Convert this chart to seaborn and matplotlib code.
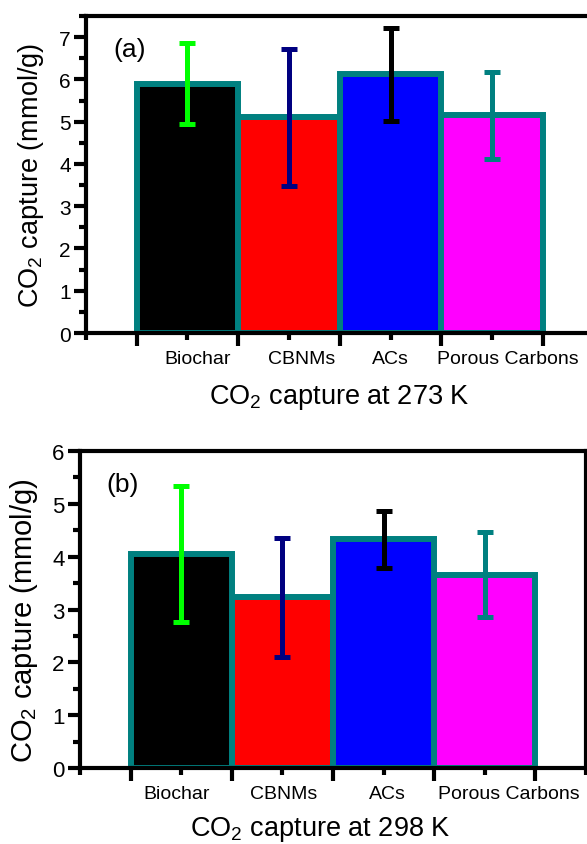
import numpy as np
import pandas as pd
import matplotlib
matplotlib.use("Agg")
import matplotlib.pyplot as plt
import seaborn as sns
from matplotlib.ticker import MultipleLocator, FixedLocator
from matplotlib.transforms import ScaledTranslation

sns.set_style("ticks")
plt.rcParams['font.family'] = ['Liberation Sans', 'DejaVu Sans']
plt.rcParams['mathtext.fontset'] = 'custom'
plt.rcParams['mathtext.rm'] = 'Liberation Sans'
plt.rcParams['axes.edgecolor'] = 'black'
plt.rcParams['xtick.color'] = 'black'
plt.rcParams['ytick.color'] = 'black'
plt.rcParams['text.color'] = 'black'
plt.rcParams['axes.labelcolor'] = 'black'

# data
categories = ["Biochar", "CBNMs", "ACs", "Porous Carbons"]
capture_273 = [5.9, 5.1, 6.12, 5.15]
err_273 = [0.95, 1.62, 1.1, 1.03]
capture_298 = [4.05, 3.23, 4.33, 3.66]
err_298 = [1.28, 1.13, 0.54, 0.8]

bar_colors = ["#000000", "#FF0000", "#0000FF", "#FF00FF"]
err_colors = ["#00FF00", "#000080", "#000000", "#008080"]
edge_color = "#008080"

fig = plt.figure(figsize=(5.87, 8.45), dpi=100)
ax1 = fig.add_axes([0.1465, 0.6047, 0.8646, 0.3752])
ax2 = fig.add_axes([0.1363, 0.0899, 0.862, 0.3752])


def shift(artist, dx, dy):
    # nudge an artist by a few pixels
    artist.set_transform(artist.get_transform()
                         + ScaledTranslation(dx / 100, dy / 100, fig.dpi_scale_trans))


def draw_panel(ax, vals, errs, ymax, label, xlabel, ysize, ylsize, lbl_shift,
               xl_dx, yl_dy, xpad):
    df = pd.DataFrame({"cat": categories, "val": vals})
    sns.barplot(data=df, x="cat", y="val", hue="cat", palette=bar_colors,
                width=1.0, edgecolor=edge_color, linewidth=4.3, saturation=1,
                legend=False, ax=ax, zorder=1)
    for i, (v, e) in enumerate(zip(vals, errs)):
        ax.errorbar(i, v, yerr=e, color=err_colors[i], lw=3.6, capsize=5.5,
                    capthick=3.6, zorder=3, solid_capstyle='round')
    ax.set_xlim(-1, 4)
    ax.set_ylim(0, ymax)
    ax.yaxis.set_major_locator(MultipleLocator(1))
    ax.yaxis.set_minor_locator(MultipleLocator(0.5))
    # long ticks at bar edges, short ticks at bar centres
    ax.xaxis.set_major_locator(FixedLocator([-0.5, 0.5, 1.5, 2.5, 3.5]))
    ax.set_xticklabels([])
    ax.set_xticks([-1, 0, 1, 2, 3, 4], labels=[""] + categories + [""], minor=True)
    ax.tick_params(axis='x', which='major', length=9, width=3, direction='out')
    ax.tick_params(axis='x', which='minor', length=5, width=3, direction='out',
                   labelsize=14, pad=7)
    ax.tick_params(axis='y', which='major', length=9, width=3, labelsize=ysize, pad=2)
    ax.tick_params(axis='y', which='minor', length=5, width=3)
    # category labels are not exactly centred under the bars in the original
    for t, dx in zip(ax.get_xticklabels(minor=True)[1:5], lbl_shift):
        shift(t, dx, 0)
    for s in ax.spines.values():
        s.set_linewidth(3)
        s.set_zorder(5)
    ax.set_ylabel("CO$_\\mathregular{2}$ capture (mmol/g)", fontsize=ylsize, labelpad=9)
    ax.set_xlabel(xlabel, fontsize=19.5, labelpad=xpad)
    shift(ax.xaxis.label, xl_dx, 0)
    shift(ax.yaxis.label, 0, yl_dy)
    ax.text(0.053, 0.895, label, transform=ax.transAxes, fontsize=19, va='center')


draw_panel(ax1, capture_273, err_273, 7.5, "(a)", "CO$_\\mathregular{2}$ capture at 273 K",
           15, 19.5, [10, 13, 0, 16], 0, 0, 11)
draw_panel(ax2, capture_298, err_298, 6, "(b)", "CO$_\\mathregular{2}$ capture at 298 K",
           16, 21, [-5, 1, 4, 24], -13, -10, 8.5)

fig.savefig("out.png", dpi=100)
